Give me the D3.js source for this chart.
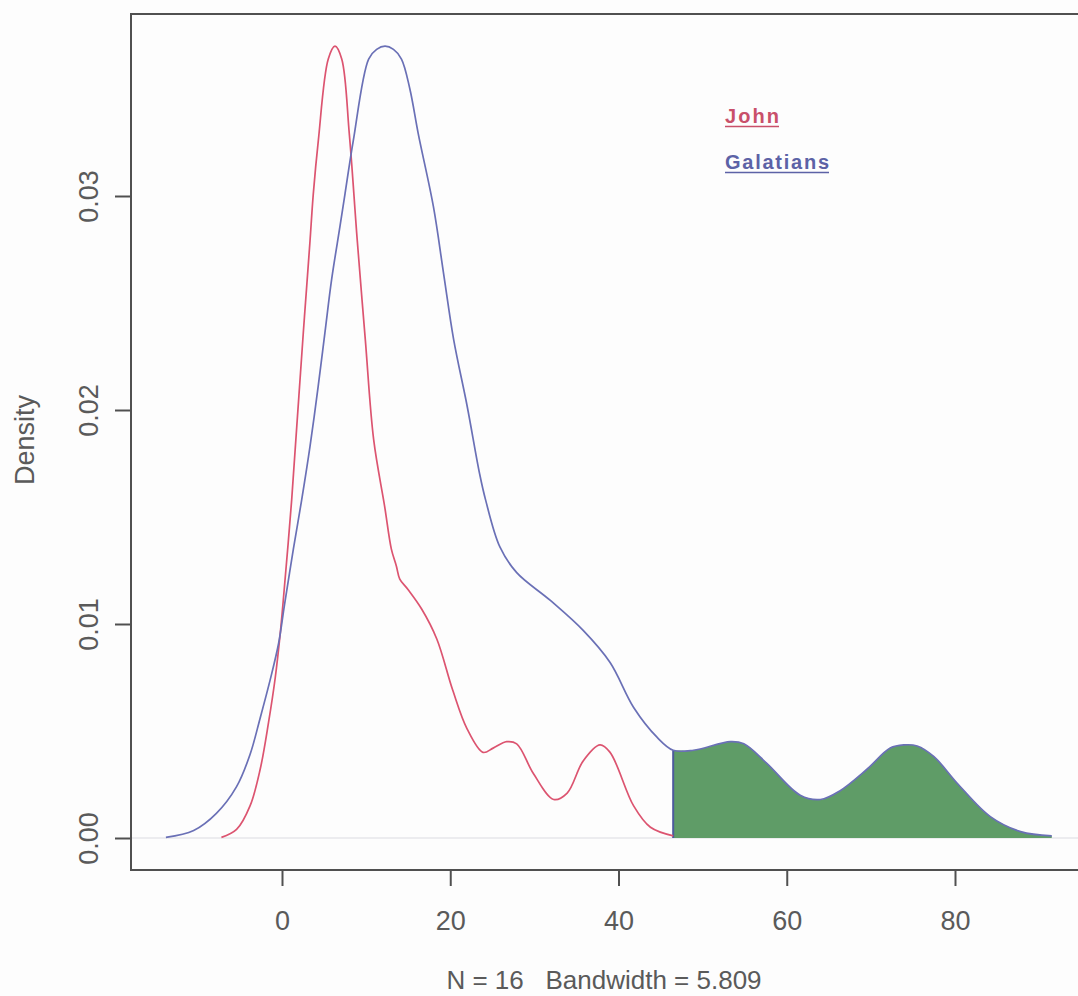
<!DOCTYPE html>
<html>
<head>
<meta charset="utf-8">
<script src="https://cdn.jsdelivr.net/npm/d3@7"></script>
<style>
  html, body { margin: 0; padding: 0; background: #fdfdfd; }
  svg { display: block; }
</style>
</head>
<body>
<svg id="chart" width="1078" height="996"></svg>
<script>
// ---- Data ----
const johnX = [-7.2, -5.4, -3.8, -2.6, -1.6, -0.8, -0.2, 0.15, 1.15, 1.75, 2.14, 2.53, 2.94, 3.33, 3.72, 4.32, 5.5, 6.3, 7.1, 8.0, 8.95, 9.9, 10.9, 12.2, 13.0, 13.6, 14.0, 15.0, 16.6, 18.4, 20.3, 22.0, 23.9, 25.1, 26.7, 27.9, 29.9, 32.3, 33.9, 35.8, 37.8, 39.0, 41.8, 43.8, 46.5];
const johnY = [0.00003, 0.0004, 0.0015, 0.0032, 0.0054, 0.0075, 0.0096, 0.0111, 0.0158, 0.0192, 0.0214, 0.0236, 0.0258, 0.0279, 0.0301, 0.0326, 0.0364, 0.0370, 0.0364, 0.0329, 0.0279, 0.0233, 0.0186, 0.0155, 0.0135, 0.0127, 0.0121, 0.0116, 0.0107, 0.0093, 0.0069, 0.0051, 0.0040, 0.0042, 0.0045, 0.0044, 0.0030, 0.0018, 0.0021, 0.0036, 0.00435, 0.0040, 0.0015, 0.0005, 0.0001];

const galX = [-13.8, -10.5, -7.8, -5.4, -3.8, -2.6, -1.4, -0.4, 0.3, 1.35, 2.34, 3.33, 4.3, 5.1, 5.9, 6.9, 7.49, 8.48, 10.3, 11.25, 12.25, 13.25, 14.2, 15.2, 16.2, 18.0, 19.2, 20.4, 22.0, 23.5, 24.2, 25.9, 27.9, 31.9, 35.8, 39.0, 41.8, 44.6, 46.5, 48.9, 53.3, 54.9, 57.6, 61.6, 64.0, 66.3, 69.5, 72.3, 73.9, 75.5, 77.5, 80.4, 84.2, 87.8, 91.5];
const galY = [0.00003, 0.00035, 0.00115, 0.0024, 0.0039, 0.0056, 0.0074, 0.0091, 0.0109, 0.0135, 0.0158, 0.0183, 0.0211, 0.0236, 0.0261, 0.0286, 0.0301, 0.0326, 0.0364, 0.03685, 0.0370, 0.03685, 0.0364, 0.0350, 0.0329, 0.0295, 0.0264, 0.0233, 0.0202, 0.0170, 0.0158, 0.0136, 0.0124, 0.0111, 0.0097, 0.0082, 0.0061, 0.0047, 0.0041, 0.0041, 0.0045, 0.0044, 0.0035, 0.0020, 0.0018, 0.0022, 0.0032, 0.0042, 0.00435, 0.0043, 0.0038, 0.0025, 0.0010, 0.0003, 0.0001];

const shadeFrom = 46.5;
const xTicks = [0, 20, 40, 60, 80];
const yTicks = [0.00, 0.01, 0.02, 0.03];
const seriesNames = ["John", "Galatians"];
const seriesColors = ["#dc5470", "#6a70b6"];
const legendColors = ["#c9506a", "#5c62a6"];
const yLabel = "Density";
const xLabel = "N = 16   Bandwidth = 5.809";

// ---- Drawing ----
const svg = d3.select("#chart");
const x = d3.scaleLinear().domain([0, 80]).range([282, 955]);
const y = d3.scaleLinear().domain([0, 0.03]).range([838, 196]);

const box = { left: 131, top: 14, bottom: 870, right: 1090 };
const font = "Liberation Sans, Arial, sans-serif";
const textCol = "#5a5a5a";
const fs = 27;

const john = johnX.map((v, i) => [v, johnY[i]]);
const gal = galX.map((v, i) => [v, galY[i]]);

// zero line
svg.append("line")
  .attr("x1", box.left).attr("x2", 1078)
  .attr("y1", y(0)).attr("y2", y(0))
  .attr("stroke", "#e6e6ea").attr("stroke-width", 1.5);

// shaded tail
const tail = gal.filter(d => d[0] >= shadeFrom);
const area = d3.area()
  .x(d => x(d[0])).y0(y(0)).y1(d => y(d[1]))
  .curve(d3.curveCatmullRom.alpha(0.5));
svg.append("path").datum(tail)
  .attr("d", area)
  .attr("fill", "#5f9c67");
svg.append("line")
  .attr("x1", x(shadeFrom)).attr("x2", x(shadeFrom))
  .attr("y1", y(0)).attr("y2", y(tail[0][1]))
  .attr("stroke", "#4c5a9c").attr("stroke-width", 2);

const line = d3.line()
  .x(d => x(d[0])).y(d => y(d[1]))
  .curve(d3.curveCatmullRom.alpha(0.5));

svg.append("path").datum(john)
  .attr("d", line).attr("fill", "none")
  .attr("stroke", seriesColors[0]).attr("stroke-width", 1.7);
svg.append("path").datum(gal)
  .attr("d", line).attr("fill", "none")
  .attr("stroke", seriesColors[1]).attr("stroke-width", 1.7);

// box
svg.append("rect")
  .attr("x", box.left).attr("y", box.top)
  .attr("width", box.right - box.left).attr("height", box.bottom - box.top)
  .attr("fill", "none").attr("stroke", "#505050").attr("stroke-width", 2);

// x axis
const xAxis = svg.append("g").attr("transform", `translate(0,${box.bottom})`)
  .call(d3.axisBottom(x).tickValues(xTicks).tickSize(16).tickPadding(25).tickFormat(d3.format("d")));
xAxis.select(".domain").remove();
xAxis.selectAll("line").attr("stroke", "#505050").attr("stroke-width", 2);
xAxis.selectAll("text")
  .attr("font-family", font)
  .attr("font-size", fs).attr("fill", textCol);

// y axis
const yAxis = svg.append("g").attr("transform", `translate(${box.left},0)`)
  .call(d3.axisLeft(y).tickValues(yTicks).tickSize(16).tickFormat(d3.format(".2f")));
yAxis.select(".domain").remove();
yAxis.selectAll("line").attr("stroke", "#505050").attr("stroke-width", 2);
yAxis.selectAll("text")
  .attr("font-family", font)
  .attr("font-size", fs).attr("fill", textCol)
  .attr("text-anchor", "middle")
  .attr("x", 0).attr("dy", 0)
  .attr("transform", "translate(-33,0) rotate(-90)");

// axis titles
svg.append("text")
  .attr("transform", `translate(34,440) rotate(-90)`)
  .attr("text-anchor", "middle")
  .attr("font-family", font)
  .attr("font-size", fs).attr("fill", textCol)
  .text(yLabel);
svg.append("text")
  .attr("x", 604).attr("y", 989)
  .attr("text-anchor", "middle")
  .attr("font-family", font)
  .attr("font-size", 26).attr("fill", textCol)
  .attr("xml:space", "preserve")
  .style("white-space", "pre")
  .text(xLabel);

// legend
const legendWidths = [54, 104];
seriesNames.forEach((n, i) => {
  svg.append("text")
    .attr("x", 725).attr("y", 123 + i * 46)
    .attr("font-family", font)
    .attr("font-weight", "bold")
    .attr("font-size", 20)
    .attr("textLength", legendWidths[i]).attr("lengthAdjust", "spacing")
    .attr("fill", legendColors[i])
    .text(n);
  svg.append("line")
    .attr("x1", 725).attr("x2", 725 + legendWidths[i])
    .attr("y1", 126.5 + i * 46).attr("y2", 126.5 + i * 46)
    .attr("stroke", legendColors[i]).attr("stroke-width", 1.5);
});
</script>
</body>
</html>
